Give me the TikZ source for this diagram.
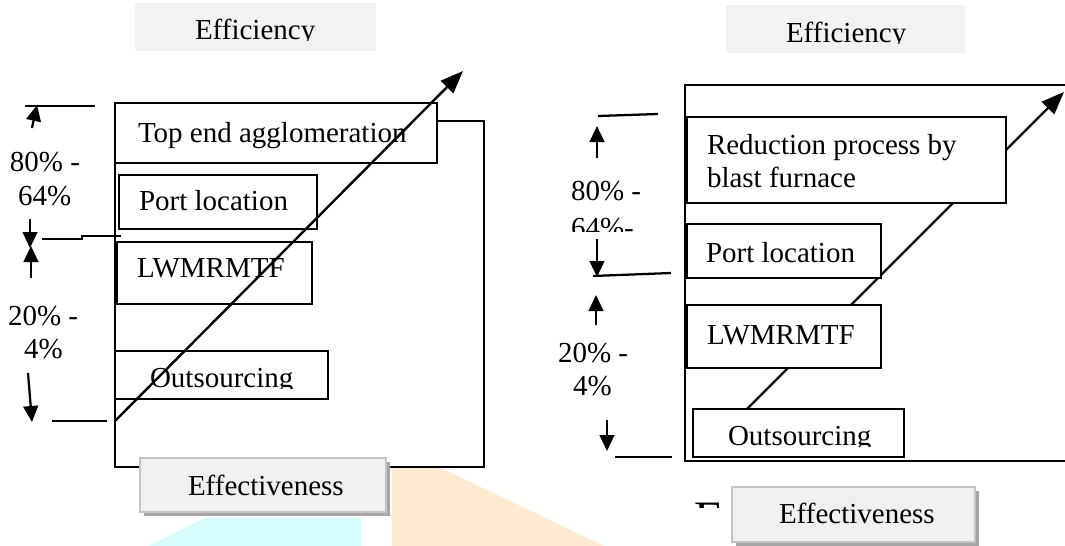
\documentclass[tikz,border=0pt]{standalone}
\usepackage{fontspec}
\setmainfont{Liberation Serif}
\usetikzlibrary{arrows.meta,fit}
\definecolor{headgray}{HTML}{F2F2F2}
\definecolor{btnfill}{HTML}{F0F0F0}
\definecolor{btnedge}{HTML}{C4C4C4}
\definecolor{btnshadow}{HTML}{A6A6A6}
\definecolor{wmcyan}{HTML}{D6FBFB}
\definecolor{wmorange}{HTML}{FDEBD3}
\begin{document}
\begin{tikzpicture}[x=0.75pt,y=-0.75pt,
  every node/.style={inner sep=0pt,outer sep=0pt,font=\fontsize{21.75pt}{26pt}\selectfont},
  headbox/.style={fill=headgray,inner sep=0pt},
  boxst/.style={draw=black,line width=1.8pt,inner sep=0pt},
  whitebox/.style={boxst,fill=white},
  btnbox/.style={draw=btnedge,line width=1.8pt,fill=btnfill,inner sep=0pt},
  frame/.style={draw=black,line width=1.8pt},
  rule/.style={draw=black,line width=1.7pt},
  diag/.style={draw=black,line width=1.8pt},
  bigtip/.style={-{Triangle[length=17pt,width=13pt]}},
  annarrow/.style={line width=1.7pt,-{Triangle[length=12pt,width=11pt]}},
  lbl/.style={anchor=base west}
]
\useasboundingbox (0,0) rectangle (1065,546);

% faint background marks
\fill[wmcyan] (149,546) -- (205,518) -- (361,518) -- (361,546) -- cycle;
\fill[wmorange] (392,467) -- (439,467) -- (604,546) -- (392,546) -- cycle;

% ================= left chart =================
\node[headbox,fit={(135,3) (376,51)}] (effL) {};
\begin{scope}
  \clip (135,3) rectangle (376,40);
  \node[lbl] (effLt) at (195,39) {Efficiency};
\end{scope}

\node[boxst,fit={(115,103) (437,163)}] (topL) {};
\node[lbl] (topLt) at (138,142) {Top end agglomeration};

\coordinate (frL0) at (437,121);
\coordinate (frL1) at (484,121);
\coordinate (frL2) at (484,467);
\coordinate (frL3) at (115,467);
\draw[frame] (frL0) -- (frL1) -- (frL2) -- (frL3) -- (topL.south west);

\node[boxst,fit={(119,175) (317,229)}] (portL) {};
\node[lbl] (portLt) at (139,210) {Port location};

\node[boxst,fit={(117,242) (312,304)}] (lwL) {};
\node[lbl] (lwLt) at (137,277) {LWMRMTF};

\node[boxst,fit={(115,351) (328,399)}] (outL) {};
\begin{scope}
  \clip (115,351) rectangle (328,388);
  \node[lbl] (outLt) at (150,387) {Outsourcing};
\end{scope}

% rising line across the left chart
\coordinate (dL0) at (115,421);
\coordinate (dL1) at (463,71);
\draw[diag,bigtip] (dL0) -- (dL1);

% left scale marks
\coordinate (tL0) at (25,106);  \coordinate (tL1) at (95,106);
\draw[rule] (tL0) -- (tL1);
\coordinate (aL0) at (32,128);  \coordinate (aL1) at (37,105);
\draw[annarrow] (aL0) -- (aL1);
\node[lbl] (pL1) at (10,171) {80\% -};
\node[lbl] (pL2) at (18,205) {64\%};
\coordinate (aL2) at (30,219);  \coordinate (aL3) at (30,248);
\draw[annarrow] (aL2) -- (aL3);
\coordinate (aL4) at (31,278);  \coordinate (aL5) at (31,246);
\draw[annarrow] (aL4) -- (aL5);
\coordinate (sL0) at (42,239); \coordinate (sL1) at (82,239);
\coordinate (sL2) at (82,236); \coordinate (sL3) at (121,236);
\draw[rule] (sL0) -- (sL1) -- (sL2) -- (sL3);
\node[lbl] (pL3) at (8,325) {20\% -};
\node[lbl] (pL4) at (24,358) {4\%};
\coordinate (aL6) at (28,373);  \coordinate (aL7) at (32,422);
\draw[annarrow] (aL6) -- (aL7);
\coordinate (bL0) at (52,421);  \coordinate (bL1) at (107,421);
\draw[rule] (bL0) -- (bL1);

% left button
\fill[btnshadow] (144,462) rectangle (390,516);
\node[btnbox,fit={(140,458) (386,512)}] (effectL) {};
\node[lbl] (effectLt) at (188,495) {Effectiveness};

% ================= right chart =================
\node[headbox,fit={(726,5) (965,53)}] (effR) {};
\begin{scope}
  \clip (726,5) rectangle (965,43);
  \node[lbl] (effRt) at (786,42) {Efficiency};
\end{scope}

\coordinate (frR0) at (1068,85);
\coordinate (frR1) at (685,85);
\coordinate (frR2) at (685,461);
\coordinate (frR3) at (1068,461);
\draw[frame] (frR0) -- (frR1) -- (frR2) -- (frR3);

% rising line, partly hidden by the boxes
\coordinate (dR0) at (747,409);
\coordinate (dR1) at (1064,92);
\draw[diag,bigtip] (dR0) -- (dR1);

\node[whitebox,fit={(687,117) (1006,203)}] (redR) {};
\node[lbl] (redRt1) at (707,154) {Reduction process by};
\node[lbl] (redRt2) at (707,187) {blast furnace};

\node[whitebox,fit={(687,224) (881,278)}] (portR) {};
\node[lbl] (portRt) at (706,262) {Port location};

\node[whitebox,fit={(687,305) (881,368)}] (lwR) {};
\node[lbl] (lwRt) at (707,344) {LWMRMTF};

\node[whitebox,fit={(693,409) (904,457)}] (outR) {};
\begin{scope}
  \clip (693,409) rectangle (904,446);
  \node[lbl] (outRt) at (728,445) {Outsourcing};
\end{scope}

% right scale marks
\coordinate (tR0) at (598,116);  \coordinate (tR1) at (658,114);
\draw[rule] (tR0) -- (tR1);
\coordinate (aR0) at (597,158);  \coordinate (aR1) at (597,126);
\draw[annarrow] (aR0) -- (aR1);
\node[lbl] (pR1) at (571,200) {80\% -};
\begin{scope}
  \clip (560,205) rectangle (650,231);
  \node[lbl] (pR2) at (571,237) {64\%-};
\end{scope}
\coordinate (aR2) at (597,239);  \coordinate (aR3) at (597,277);
\draw[annarrow] (aR2) -- (aR3);
\coordinate (mR0) at (593,276);  \coordinate (mR1) at (671,273);
\draw[rule] (mR0) -- (mR1);
\coordinate (aR4) at (596,325);  \coordinate (aR5) at (596,295);
\draw[annarrow] (aR4) -- (aR5);
\node[lbl] (pR3) at (558,362) {20\% -};
\node[lbl] (pR4) at (573,395) {4\%};
\coordinate (aR6) at (607,420);  \coordinate (aR7) at (607,451);
\draw[annarrow] (aR6) -- (aR7);
\coordinate (bR0) at (615,457);  \coordinate (bR1) at (672,457);
\draw[rule] (bR0) -- (bR1);

% stray letter peeking above the right button
\begin{scope}
  \clip (688,495) rectangle (731,507);
  \node[lbl,font=\fontsize{36pt}{40pt}\selectfont] (strayE) at (694,534) {E};
\end{scope}

% right button
\fill[btnshadow] (736,491) rectangle (979,546);
\node[btnbox,fit={(732,487) (975,542)}] (effectR) {};
\node[lbl] (effectRt) at (779,523) {Effectiveness};
\end{tikzpicture}
\end{document}
